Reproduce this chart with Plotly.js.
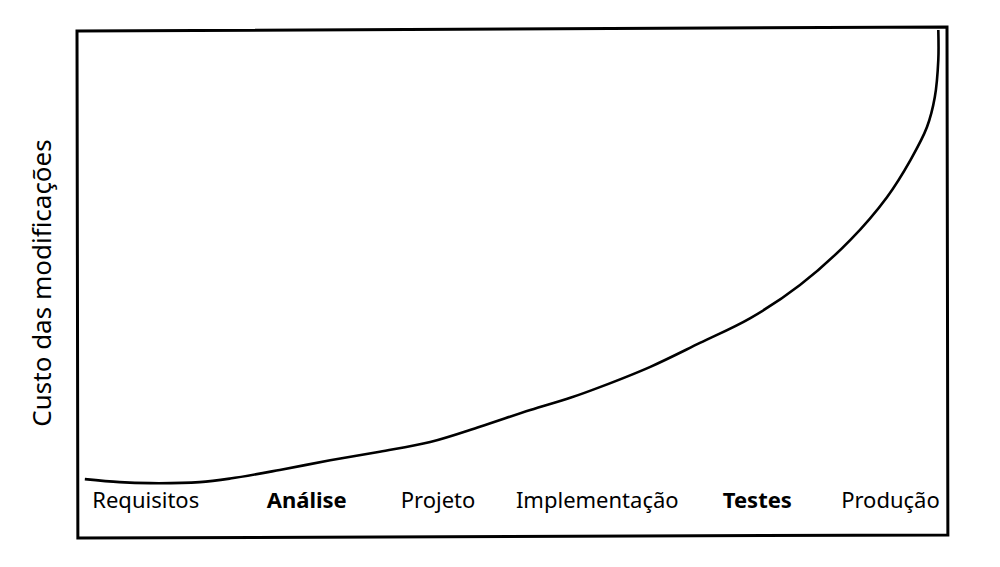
<!DOCTYPE html>
<html>
<head>
<meta charset="utf-8">
<script src="https://cdn.plot.ly/plotly-3.0.1.min.js"></script>
<style>
  html, body { margin: 0; padding: 0; background: #ffffff; }
  #chart { width: 1000px; height: 567px; }
</style>
</head>
<body>
<div id="chart"></div>
<script>
// Project progress (0-100) and relative cost of changes (0-100)
const progress = [0.9, 4.9, 8.4, 14.1, 17.6, 23.3, 29.1, 34.8, 40.6, 46.3, 52.1, 56.7, 60.1, 65.9, 71.6, 77.4, 83.1, 88.9, 93.1, 95.8, 97.7, 98.6, 99.0, 99.0];
const cost     = [11.4, 10.8, 10.6, 10.8, 11.5, 13.2, 15.1, 16.8, 18.7, 21.7, 25.0, 27.4, 29.5, 33.5, 38.2, 43.1, 49.6, 58.5, 66.9, 74.2, 80.7, 86.6, 93.9, 99.8];

// Phases and where they sit along the progress axis
const phases      = ["Requisitos", "Análise", "Projeto", "Implementação", "Testes", "Produção"];
const phaseCenter = [7.9, 26.4, 41.5, 59.8, 78.2, 93.5];
const boldPhases  = ["Análise", "Testes"];

const yTitle = "Custo das modificações";

const trace = {
  x: progress,
  y: cost,
  type: "scatter",
  mode: "lines",
  line: { color: "#000000", width: 2.6, shape: "spline", smoothing: 1.0 },
  hoverinfo: "skip",
  showlegend: false
};

const layout = {
  width: 1000,
  height: 567,
  margin: { l: 77, r: 53, t: 29, b: 30 },
  paper_bgcolor: "#ffffff",
  plot_bgcolor: "#ffffff",
  font: { family: "Noto Sans, sans-serif", color: "#000000" },
  xaxis: {
    range: [0, 100],
    showgrid: false,
    zeroline: false,
    showline: false,
    tickmode: "array",
    tickvals: phaseCenter,
    ticktext: phases.map(p => boldPhases.includes(p) ? "<b>" + p + "</b>" : p),
    ticks: "inside",
    ticklen: 16,
    tickcolor: "rgba(0,0,0,0)",
    ticklabelposition: "inside",
    ticklabelstandoff: 10,
    tickfont: { size: 22, color: "#000000", family: "Noto Sans, sans-serif" },
    fixedrange: true
  },
  yaxis: {
    range: [0, 100],
    showgrid: false,
    zeroline: false,
    showline: false,
    showticklabels: false,
    ticks: "",
    automargin: false,
    title: {
      text: yTitle,
      standoff: 16,
      font: { size: 26, color: "#000000", family: "Noto Sans, sans-serif" }
    },
    fixedrange: true
  },
  shapes: [
    {
      type: "path",
      xref: "paper",
      yref: "paper",
      path: "M 0,0.996 L 1.0,1.004 L 1.001,0.004 L 0.001,-0.002 Z",
      line: { color: "#000000", width: 3 },
      fillcolor: "rgba(0,0,0,0)",
      layer: "above"
    }
  ]
};

Plotly.newPlot("chart", [trace], layout, { displayModeBar: false, staticPlot: true });
</script>
</body>
</html>
